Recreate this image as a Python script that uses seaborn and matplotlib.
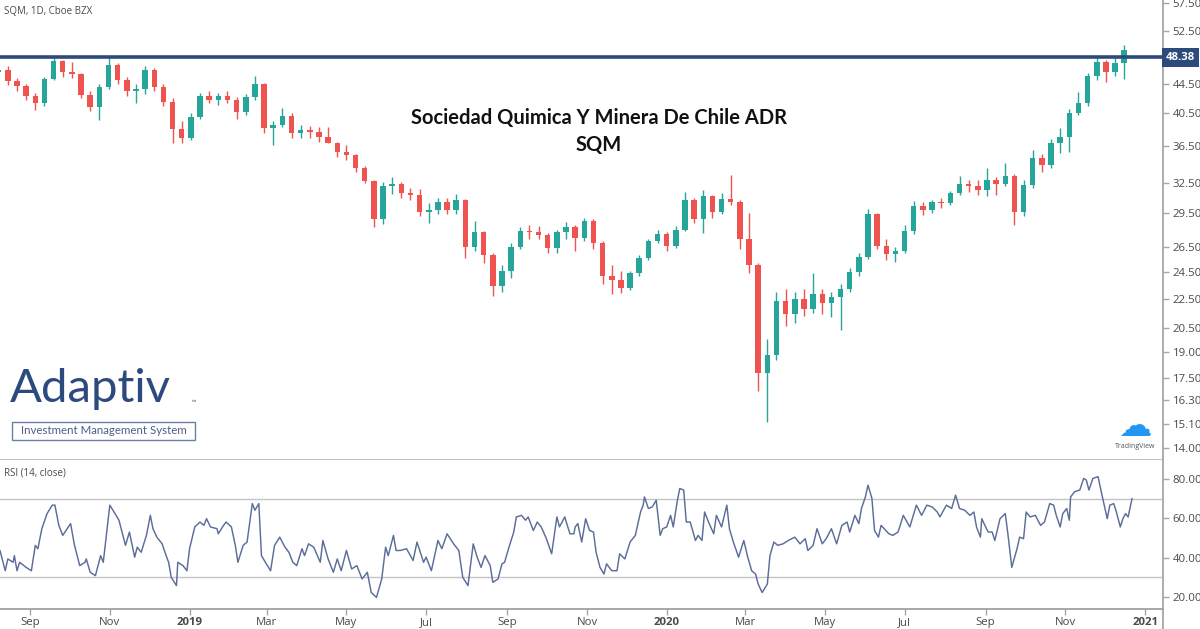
import numpy as np
import pandas as pd
import matplotlib
matplotlib.use("Agg")
import matplotlib.pyplot as plt
import matplotlib.dates as mdates
from matplotlib.ticker import FixedLocator, NullLocator, FuncFormatter
from matplotlib.lines import Line2D
from matplotlib.patches import Rectangle
import seaborn as sns

# ---------------- data ----------------
first_week = "2018-08-08"   # weekly candles, one per week
opens = [46.2, 46.5, 44.8, 44.2, 42.8, 41.8, 45.2, 47.8, 46.2, 45.8,
         42.9, 41.3, 44.0, 47.2, 45.0, 43.5, 43.8, 46.5, 44.0, 42.0,
         38.5, 37.5, 40.0, 42.8, 42.3, 42.8, 42.2, 40.6, 42.6, 44.5,
         38.6, 39.0, 40.2, 38.0, 38.4, 38.2, 37.6, 36.9, 35.8, 35.5,
         34.0, 32.7, 29.0, 32.2, 32.4, 31.5, 31.3, 29.6, 29.8, 30.6,
         29.8, 30.8, 26.5, 27.8, 25.8, 23.4, 24.6, 26.5, 27.9, 27.8,
         27.5, 26.4, 27.8, 28.2, 27.3, 28.8, 26.8, 24.2, 23.9, 23.3,
         24.4, 25.6, 27.0, 27.6, 26.6, 28.0, 30.8, 29.0, 31.2, 29.6,
         30.9, 30.6, 27.2, 25.0, 17.8, 18.8, 22.3, 21.4, 22.5, 21.8,
         22.8, 22.2, 22.6, 23.2, 24.5, 25.7, 29.4, 26.6, 25.9, 26.2,
         27.9, 30.2, 29.8, 30.6, 30.5, 31.5, 32.4, 32.2, 31.8, 32.8,
         32.4, 33.2, 29.6, 32.3, 35.2, 34.4, 36.8, 37.6, 40.5, 41.8,
         45.6, 47.6, 46.2, 47.5]
highs = [47.0, 47.0, 45.3, 44.5, 43.2, 45.5, 48.6, 48.0, 47.6, 46.0,
         43.5, 44.5, 48.5, 47.5, 45.5, 44.5, 47.0, 46.8, 44.5, 42.5,
         39.5, 40.5, 43.2, 43.5, 43.2, 43.5, 42.6, 43.0, 45.6, 44.6,
         39.5, 41.2, 40.5, 39.0, 38.9, 38.8, 38.8, 37.0, 36.6, 35.6,
         34.3, 32.8, 32.6, 33.1, 32.6, 32.0, 31.9, 30.5, 31.0, 31.0,
         31.4, 30.9, 28.8, 27.9, 26.0, 25.0, 26.8, 28.2, 28.4, 28.3,
         27.7, 28.0, 28.7, 28.4, 29.1, 29.0, 27.0, 25.0, 24.6, 24.6,
         25.8, 27.2, 28.0, 27.8, 28.3, 31.6, 31.0, 31.8, 31.3, 31.5,
         33.3, 30.8, 29.5, 25.2, 19.8, 23.0, 23.2, 23.0, 23.2, 24.4,
         23.2, 23.0, 23.6, 24.8, 26.0, 29.9, 29.5, 27.2, 26.5, 28.4,
         30.7, 30.6, 30.8, 31.0, 31.7, 33.2, 32.8, 32.8, 34.1, 33.1,
         34.6, 33.4, 32.8, 36.0, 35.6, 37.3, 38.7, 41.0, 43.3, 46.0,
         48.3, 48.0, 48.4, 50.3]
lows = [45.5, 44.3, 43.5, 42.3, 40.9, 41.5, 45.0, 45.5, 45.3, 42.5,
        40.8, 39.6, 43.8, 44.5, 42.8, 41.8, 43.0, 43.5, 41.5, 36.8,
        36.8, 37.2, 39.8, 41.8, 41.6, 41.8, 39.8, 40.3, 42.3, 38.0,
        36.6, 38.8, 37.4, 37.4, 37.5, 37.0, 36.8, 35.3, 34.9, 33.6,
        32.5, 28.2, 28.5, 31.4, 31.0, 30.8, 29.2, 28.6, 29.4, 29.4,
        29.4, 25.6, 26.2, 25.2, 22.7, 23.0, 24.0, 26.3, 27.2, 27.2,
        26.0, 26.0, 27.2, 26.2, 27.0, 26.3, 23.6, 22.8, 22.9, 23.1,
        24.2, 25.4, 26.8, 26.2, 26.4, 27.9, 28.6, 27.7, 29.1, 29.4,
        30.3, 26.3, 24.4, 16.8, 15.2, 18.5, 20.6, 20.8, 21.3, 21.5,
        21.4, 21.2, 20.4, 23.0, 24.2, 25.5, 26.3, 25.4, 25.3, 26.0,
        27.6, 29.3, 29.5, 30.0, 30.3, 31.3, 31.6, 31.3, 31.2, 31.3,
        32.2, 28.4, 29.2, 32.0, 33.6, 34.0, 35.7, 35.8, 40.3, 41.5,
        45.0, 44.7, 45.6, 45.2]
closes = [46.5, 44.8, 44.2, 42.8, 41.8, 45.2, 47.8, 46.2, 45.8, 42.9,
          41.3, 44.0, 47.2, 45.0, 43.5, 43.8, 46.5, 44.0, 42.0, 38.5,
          37.5, 40.0, 42.8, 42.3, 42.8, 42.2, 40.6, 42.6, 44.5, 38.6,
          39.0, 40.2, 38.0, 38.4, 38.2, 37.6, 36.9, 35.8, 35.5, 34.0,
          32.7, 29.0, 32.2, 32.4, 31.5, 31.3, 29.6, 29.8, 30.6, 29.8,
          30.8, 26.5, 27.8, 25.8, 23.4, 24.6, 26.5, 27.9, 27.8, 27.5,
          26.4, 27.8, 28.2, 27.3, 28.8, 26.8, 24.2, 23.9, 23.3, 24.4,
          25.6, 27.0, 27.6, 26.6, 28.0, 30.8, 29.0, 31.2, 29.6, 30.9,
          30.6, 27.2, 25.0, 17.8, 18.8, 22.3, 21.4, 22.5, 21.8, 22.8,
          22.2, 22.6, 23.2, 24.5, 25.7, 29.4, 26.6, 25.9, 26.2, 27.9,
          30.2, 29.8, 30.6, 30.5, 31.5, 32.4, 32.2, 31.8, 32.8, 32.4,
          33.2, 29.6, 32.3, 35.2, 34.4, 36.8, 37.6, 40.5, 41.8, 45.6,
          47.6, 46.2, 47.5, 49.5]

rsi_start = "2018-08-09"
rsi_day = [0, 4, 6, 10, 11, 13, 15, 20, 24, 27, 29, 32, 36, 40, 42, 45, 48, 54, 57, 61,
           65, 66, 69, 73, 77, 79, 84, 88, 91, 96, 99, 103, 105, 108, 112, 115, 117, 120, 124, 128,
           129, 131, 135, 136, 140, 143, 145, 149, 153, 156, 158, 161, 166, 167, 171, 173, 177, 180, 182, 186,
           189, 193, 195, 198, 200, 203, 207, 210, 214, 218, 221, 224, 227, 231, 233, 236, 240, 245, 247, 251,
           255, 258, 261, 265, 269, 273, 277, 281, 284, 288, 292, 295, 297, 301, 303,
           306, 311, 316, 319, 324, 326, 330, 335, 338, 342, 347, 351, 354, 358, 362, 365, 368, 371, 375, 377,
           381, 384, 386, 389, 393, 395, 399, 402, 404, 408, 411, 414, 418, 422, 426, 428, 432, 436, 439, 440,
           442, 445, 448, 451, 454, 456, 459, 462, 464, 468, 472, 474, 478, 482, 486, 490, 492, 493, 496, 499,
           502, 505, 507, 510, 513, 515, 518, 520, 523, 525, 528, 532, 534, 537, 539, 542, 546, 548, 552, 556,
           558, 561, 565, 569, 572, 575, 578, 580, 583, 587, 589, 592, 595, 599, 603, 608,
           612, 616, 618, 622, 625, 629, 632, 636, 640, 644, 648, 650, 654, 657, 659, 662, 664, 667, 669, 672,
           674, 680, 683, 687, 691, 696, 701, 705, 709, 713, 717, 719, 724, 728, 731, 734, 738, 742, 745, 747,
           750, 751, 754, 756, 759, 761, 765, 769, 771, 774, 778, 780, 783, 785, 788, 792, 796, 799, 803, 806,
           808, 811, 813, 816, 818, 819, 822, 826, 829, 831, 833, 836, 840, 843, 847, 849, 852, 854, 857, 859,
           861, 863, 866]
rsi_val = [43.6, 33.3, 39.3, 37.6, 41, 33.3, 37.6, 35, 33.3, 46.2, 44.5, 54.7, 62.4, 66.7, 66.7, 56.4, 51.3, 57.3, 46.2, 35.9,
           37.6, 39.3, 32.5, 30.8, 41, 37.6, 66.7, 62.4, 59, 46.2, 53, 40.2, 45.3, 42.7, 51.3, 61.5, 54.7, 50.4, 47, 39.3,
           37.6, 29.9, 25.7, 37.6, 35.9, 33.3, 44.5, 55.6, 58.1, 56.4, 59.8, 55.6, 54.7, 52.1, 56.4, 58.1, 55.6, 46.2, 37.6, 46.2,
           47.9, 67.5, 64.1, 67.5, 41, 37.6, 33.3, 46.2, 50.4, 45.3, 42.7, 37.6, 35.9, 44.5, 41, 47, 45.3, 37.6, 48.7, 39.3,
           32.5, 39.3, 33.3, 43.6, 34.2, 35.9, 29.1, 32.5, 22.2, 19.7, 29.1, 45.3, 41, 51.3, 43.6,
           43.6, 44.5, 38.5, 47.9, 37.6, 40.2, 33.3, 48.7, 44.5, 52.1, 47, 43.6, 29.9, 25.7, 47, 40.2, 35, 41, 35.9, 27.4,
           29.1, 36.8, 37.6, 44.5, 53, 60.7, 61.5, 59, 60.7, 53.8, 58.1, 55.6, 49.6, 41.9, 60.7, 55.6, 60.7, 52.1, 52.1, 55.6,
           57.3, 47.9, 59.8, 53.8, 53, 42.7, 35, 31.6, 36.8, 33.3, 33.3, 41.9, 39.3, 47.9, 51.3, 63.2, 66.7, 70.9, 65, 65.8,
           69.2, 51.3, 54.7, 55.6, 61.5, 55.6, 68.4, 75.2, 74.4, 58.1, 58.1, 48.7, 51.3, 48.7, 63.2, 58.1, 52.1, 61.5, 55.6, 66.7,
           54.7, 47.9, 40.2, 48.7, 40.2, 33.3, 31.6, 26.5, 22.2, 26.5, 41, 47.9, 46.2, 47, 48.7, 50.4,
           47, 49.6, 43.6, 46.2, 54.7, 47, 49.6, 54.7, 47, 56.4, 58.1, 53, 61.5, 57.3, 65, 70.9, 76.9, 70.1, 53.8, 50.4,
           56.4, 52.1, 51.3, 53, 61.5, 55.6, 66.7, 61.5, 66.7, 65.8, 63.2, 60.7, 66.7, 65, 71.8, 65, 64.1, 61.5, 63.2, 55.6,
           50.4, 59.8, 55.6, 53, 53, 48.7, 59.8, 62.4, 52.1, 35, 44.5, 50.4, 49.6, 63.2, 60.7, 61.5, 56.4, 58.1, 67.5, 66.7,
           61.5, 55.6, 62.4, 65, 59, 70.9, 73.5, 74.4, 80.3, 79.5, 74.4, 80.3, 81.2, 71.8, 59.8, 66.7, 67.5, 63.2, 55.6, 59.8,
           62.4, 60.7, 70.1]

price_ticks = [14.00, 15.10, 16.30, 17.50, 19.00, 20.50, 22.50, 24.50, 26.50,
               29.50, 32.50, 36.50, 40.50, 44.50, 52.50, 57.50]
rsi_ticks = [20, 40, 60, 80]
rsi_levels = [30, 70]
resistance = 48.38
month_dates = ["2018-09-01", "2018-11-01", "2019-01-01", "2019-03-01", "2019-05-01",
               "2019-07-01", "2019-09-01", "2019-11-01", "2020-01-01", "2020-03-01",
               "2020-05-01", "2020-07-01", "2020-09-01", "2020-11-01", "2021-01-01"]
month_labels = ["Sep", "Nov", "2019", "Mar", "May", "Jul", "Sep", "Nov",
                "2020", "Mar", "May", "Jul", "Sep", "Nov", "2021"]
view_start, view_end = "2018-08-09", "2021-01-14 16:00"

# ---------------- style ----------------
sns.set_theme(style="white")
plt.rcParams['font.family'] = ['Open Sans', 'DejaVu Sans']

UP, DOWN = "#26a69a", "#ef5350"
NAVY = "#2c4a7c"
AXIS = "#a6a6a6"
TXT = "#4a4a4a"

W, H = 1200, 629
fig = plt.figure(figsize=(12, 6.29), dpi=100)
fig.patch.set_facecolor("white")
ax = fig.add_axes([0, 1 - 460 / H, 1163 / W, 460 / H])
ax2 = fig.add_axes([0, 1 - 609 / H, 1163 / W, 149 / H], sharex=ax)

# ---------------- candles ----------------
df = pd.DataFrame({"date": pd.date_range(first_week, periods=len(opens), freq="7D"),
                   "open": opens, "high": highs, "low": lows, "close": closes})
df["x"] = mdates.date2num(df["date"])
df["up"] = df["close"] >= df["open"]
cols = np.where(df["up"], UP, DOWN)
body_lo = np.minimum(df["open"], df["close"])
body_h = np.maximum(np.abs(df["close"] - df["open"]), 0.08)
ax.vlines(df["x"], df["low"], df["high"], colors=cols, lw=1.0, zorder=2)
ax.bar(df["x"], body_h, bottom=body_lo, width=4.2, color=cols, linewidth=0, zorder=3)

ax.set_yscale("log")
ax.set_ylim(13.49, 58.0)
ax.axhline(resistance, color=NAVY, lw=2.6, zorder=4)

ax.yaxis.tick_right()
ax.yaxis.set_major_locator(FixedLocator(price_ticks))
ax.yaxis.set_minor_locator(NullLocator())
ax.yaxis.set_major_formatter(FuncFormatter(lambda v, p: f"{v:.2f}"))
ax.tick_params(axis="y", which="major", right=True, left=False, length=4, width=1,
               color=AXIS, labelsize=8.2, labelcolor=TXT, pad=3)
ax.tick_params(axis="x", bottom=False, labelbottom=False)
for s in ["left", "top"]:
    ax.spines[s].set_visible(False)
ax.spines["right"].set_color(AXIS)
ax.spines["right"].set_linewidth(1.3)
ax.spines["bottom"].set_color("#b8b8b8")
ax.spines["bottom"].set_linewidth(1.3)

ax.text(1.0 + 3 / 1163, resistance, "48.38", transform=ax.get_yaxis_transform(),
        ha="left", va="center", fontsize=8.2, color="white", fontweight="bold",
        bbox=dict(boxstyle="square,pad=0.35", facecolor=NAVY, edgecolor="none"), zorder=6,
        clip_on=False)

# ---------------- RSI ----------------
rsi_df = pd.DataFrame({"date": pd.Timestamp(rsi_start) + pd.to_timedelta(rsi_day, unit="D"),
                       "rsi": rsi_val})
rsi_df["x"] = mdates.date2num(rsi_df["date"])
sns.lineplot(data=rsi_df, x="x", y="rsi", ax=ax2, color="#5b6d98", lw=1.05,
             estimator=None, sort=False, zorder=3)
for lv in rsi_levels:
    ax2.axhline(lv, color="#c4c4c4", lw=1.0, zorder=1)
ax2.set_ylim(13.8, 89.7)
ax2.yaxis.tick_right()
ax2.yaxis.set_major_locator(FixedLocator(rsi_ticks))
ax2.yaxis.set_major_formatter(FuncFormatter(lambda v, p: f"{v:.2f}"))
ax2.tick_params(axis="y", right=True, left=False, length=4, width=1, color=AXIS,
                labelsize=8.2, labelcolor=TXT, pad=3)
ax2.set_xlabel("")
ax2.set_ylabel("")
ax.set_xlabel("")
ax.set_ylabel("")
for s in ["left", "top"]:
    ax2.spines[s].set_visible(False)
ax2.spines["right"].set_color(AXIS)
ax2.spines["right"].set_linewidth(1.3)
ax2.spines["bottom"].set_color("#a0a0a0")
ax2.spines["bottom"].set_linewidth(1.3)

ax2.set_xlim(mdates.date2num(pd.Timestamp(view_start)), mdates.date2num(pd.Timestamp(view_end)))
ax2.set_xticks(mdates.date2num(pd.to_datetime(month_dates)))
ax2.set_xticklabels(month_labels)
ax2.tick_params(axis="x", bottom=True, length=4, width=1, color=AXIS,
                labelsize=8.2, labelcolor=TXT, pad=2)
for lab in ax2.get_xticklabels():
    if lab.get_text()[0].isdigit():
        lab.set_fontweight("bold")

# right axis line continues to the bottom of the image
fig.add_artist(Line2D([1163 / W, 1163 / W], [0, 1 - 609 / H], transform=fig.transFigure,
                      color=AXIS, lw=1.3))

# ---------------- texts ----------------
fig.text(4 / W, 1 - 12 / H, "SQM, 1D, Cboe BZX", fontsize=7, color=TXT, va="center", ha="left")
fig.text(4 / W, 1 - 473 / H, "RSI (14, close)", fontsize=7, color=TXT, va="center", ha="left")
fig.text(599 / W, 1 - 118 / H, "Sociedad Quimica Y Minera De Chile ADR", fontsize=14.5,
         fontweight="bold", color="#111111", ha="center", va="center", family=["Lato", "DejaVu Sans"])
fig.text(599 / W, 1 - 145 / H, "SQM", fontsize=14.5, fontweight="bold", color="#111111",
         ha="center", va="center", family=["Lato", "DejaVu Sans"])

# Adaptiv logo
fig.text(10 / W, 1 - 389 / H, "Adaptiv", fontsize=34, color="#2d4a7e", ha="left", va="center",
         family=["Lato", "DejaVu Sans"], fontweight="normal")
fig.text(192 / W, 1 - 403 / H, "™", fontsize=4, color="#2d4a7e", ha="left", va="center")
fig.add_artist(Rectangle((12 / W, 1 - 440 / H), 183 / W, 18 / H, transform=fig.transFigure,
                         facecolor="white", edgecolor="#6a7ea6", lw=1.0))
fig.text(103.5 / W, 1 - 431 / H, "Investment Management System", fontsize=8.3, color="#4c5f88",
         ha="center", va="center", family=["Lato", "DejaVu Sans"])

# TradingView mark
fig.text(1135 / W, 1 - 427 / H, "\u2601", fontsize=24, color="#2196f3", ha="center", va="center",
         family=["DejaVu Sans"])
fig.text(1135 / W, 1 - 446 / H, "TradingView", fontsize=5, color="#555555", ha="center", va="center")

fig.savefig("out.png", dpi=100, facecolor="white")
